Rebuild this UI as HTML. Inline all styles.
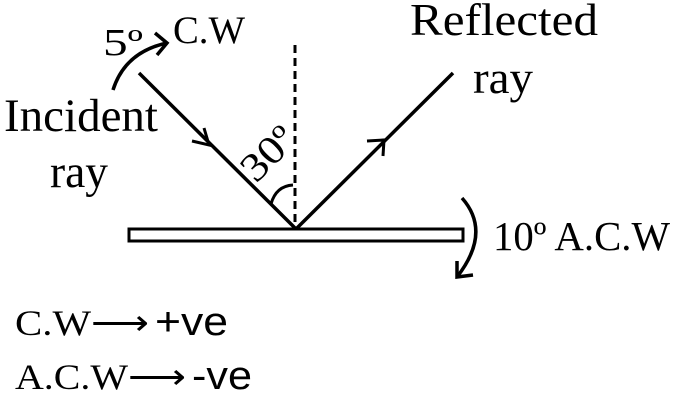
<!DOCTYPE html>
<html><head><meta charset="utf-8"><style>
html,body{margin:0;padding:0;background:#fff;}
svg{display:block;}
text{font-family:"Liberation Serif",serif;fill:#000;}
</style></head><body>
<svg width="674" height="402" viewBox="0 0 674 402" xmlns="http://www.w3.org/2000/svg">
<rect x="129" y="229" width="334" height="12" fill="#fff" stroke="#000" stroke-width="3"/>
<line x1="295" y1="45" x2="295" y2="228" stroke="#000" stroke-width="3" stroke-dasharray="8,5"/>
<line x1="139" y1="73" x2="296" y2="229" stroke="#000" stroke-width="3.5"/>
<polyline points="192,141 209,145 204,128" fill="none" stroke="#000" stroke-width="3"/>
<line x1="296" y1="229" x2="453" y2="73" stroke="#000" stroke-width="3.5"/>
<polyline points="367,141 384,140 383,156" fill="none" stroke="#000" stroke-width="3"/>
<path d="M271,204 Q276,186 293,185" fill="none" stroke="#000" stroke-width="3"/>
<path d="M113,90 Q125,52 167,43" fill="none" stroke="#000" stroke-width="3.5"/>
<polyline points="155,33 167,43 157,55" fill="none" stroke="#000" stroke-width="3.5"/>
<path d="M462,198 Q492,232 457,277" fill="none" stroke="#000" stroke-width="3.5"/>
<polyline points="457,261 457,277 473,275" fill="none" stroke="#000" stroke-width="3.5"/>
<text x="103" y="55" font-size="38" textLength="40" lengthAdjust="spacingAndGlyphs">5º</text>
<text x="173" y="43" font-size="39" textLength="72" lengthAdjust="spacingAndGlyphs">C.W</text>
<text x="4" y="131" font-size="47" textLength="154" lengthAdjust="spacingAndGlyphs">Incident</text>
<text x="50" y="187" font-size="47" textLength="58" lengthAdjust="spacingAndGlyphs">ray</text>
<text x="410" y="35" font-size="45" textLength="188" lengthAdjust="spacingAndGlyphs">Reflected</text>
<text x="473" y="93" font-size="45" textLength="60" lengthAdjust="spacingAndGlyphs">ray</text>
<text x="0" y="0" font-size="40" transform="translate(256,184) rotate(-45)" textLength="60" lengthAdjust="spacingAndGlyphs">30º</text>
<text x="493" y="250" font-size="41" textLength="177" lengthAdjust="spacingAndGlyphs">10º A.C.W</text>
<text x="15" y="335" font-size="36" textLength="76" lengthAdjust="spacingAndGlyphs">C.W</text>
<text x="91" y="335" font-size="36" font-family="Liberation Sans" textLength="58" lengthAdjust="spacingAndGlyphs">⟶</text>
<text x="155" y="335" font-size="40" style="font-family:'Liberation Sans',sans-serif" textLength="73" lengthAdjust="spacingAndGlyphs">+ve</text>
<text x="15" y="389" font-size="36" textLength="113" lengthAdjust="spacingAndGlyphs">A.C.W</text>
<text x="128" y="389" font-size="36" font-family="Liberation Sans" textLength="58" lengthAdjust="spacingAndGlyphs">⟶</text>
<text x="192" y="389" font-size="40" style="font-family:'Liberation Sans',sans-serif" textLength="60" lengthAdjust="spacingAndGlyphs">-ve</text>
</svg>
</body></html>
